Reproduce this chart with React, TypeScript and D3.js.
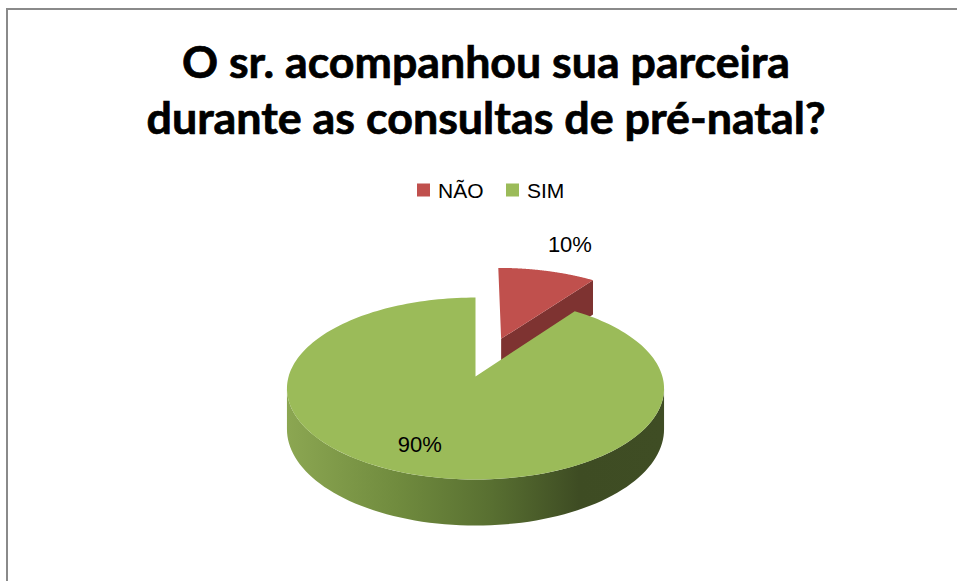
import React from 'react';
import * as d3 from 'd3';

const categories = ['NÃO', 'SIM'];
const values = [10, 90];
const valueLabels = ['10%', '90%'];
const topColors = ['#c0504d', '#9bbb59'];
const sideColors = ['#7e3331', '#6b853c'];
const explodeAmounts = [0.47, 0];
const titleLines = ['O sr. acompanhou sua parceira', 'durante as consultas de pré-natal?'];

const W = 957;
const H = 581;

// perspective parameters
const CX = 475.5;
const CY = 376.5;
const SX = 186.9;
const SY = 89.4;
const K = 0.132;
const DEPTH = 40;

function project(theta: number, r: number, z: number, off: [number, number]): [number, number] {
  const u = r * Math.sin(theta) + off[0];
  const v = r * Math.cos(theta) + off[1];
  const w = 1 + K * v;
  return [CX + (SX * u) / w, CY - (SY * v) / w + (DEPTH * z) / w];
}

function arcPoints(a0: number, a1: number, z: number, off: [number, number], n = 80): [number, number][] {
  const pts: [number, number][] = [];
  for (let i = 0; i <= n; i++) {
    const t = a0 + ((a1 - a0) * i) / n;
    pts.push(project(t, 1, z, off));
  }
  return pts;
}

const line = d3.line<[number, number]>().x((d) => d[0]).y((d) => d[1]);

export default function App() {
  const pie = d3.pie<number>().sort(null).startAngle(0).endAngle(2 * Math.PI);
  const arcs = pie(values);

  const slices = arcs.map((a, i) => {
    const mid = (a.startAngle + a.endAngle) / 2;
    const e = explodeAmounts[i];
    const off: [number, number] = [e * Math.sin(mid), e * Math.cos(mid)];
    return { a, i, mid, off };
  });

  const tangent = Math.acos(-K); // silhouette angle
  const elements: JSX.Element[] = [];

  const order = [0, 1];
  order.forEach((idx) => {
    const { a, off } = slices[idx];
    const c0 = project(0, 0, 0, off);
    const c1 = project(0, 0, 1, off);
    const endNormal = a.endAngle + Math.PI / 2;
    if (Math.cos(endNormal) < -0.05 && a.endAngle - a.startAngle < 2 * Math.PI - 0.01) {
      const o0 = project(a.endAngle, 1, 0, off);
      const o1 = project(a.endAngle, 1, 1, off);
      elements.push(
        <path key={`cutE${idx}`} d={line([c0, o0, o1, c1])! + 'Z'} fill={sideColors[idx]} />
      );
    }
    const startNormal = a.startAngle - Math.PI / 2;
    if (Math.cos(startNormal) < -0.05) {
      const o0 = project(a.startAngle, 1, 0, off);
      const o1 = project(a.startAngle, 1, 1, off);
      elements.push(
        <path key={`cutS${idx}`} d={line([c0, o0, o1, c1])! + 'Z'} fill={sideColors[idx]} />
      );
    }
    const s0 = Math.max(a.startAngle, tangent);
    const s1 = Math.min(a.endAngle, 2 * Math.PI - tangent);
    if (s1 > s0) {
      const top = arcPoints(s0, s1, 0, off);
      const bot = arcPoints(s0, s1, 1, off).reverse();
      elements.push(
        <path
          key={`side${idx}`}
          d={line([...top, ...bot])! + 'Z'}
          fill={idx === 1 ? 'url(#greenSide)' : sideColors[idx]}
        />
      );
    }
    const topArc = arcPoints(a.startAngle, a.endAngle, 0, off, 200);
    const pts = a.endAngle - a.startAngle >= 2 * Math.PI - 0.001 ? topArc : [c0, ...topArc];
    elements.push(<path key={`top${idx}`} d={line(pts)! + 'Z'} fill={topColors[idx]} />);
  });

  const labelPos = slices.map(({ mid, off }, i) => {
    const r = i === 0 ? 1.32 : 0.72;
    return project(mid, r, 0, off);
  });
  const labelNudge: [number, number][] = [[10, -8], [-10, 0]];

  const legendX = [417, 506];
  const legendY = 183.5;

  return (
    <svg
      width={W}
      height={H}
      viewBox={`0 0 ${W} ${H}`}
      style={{ position: 'absolute', left: 0, top: 0, display: 'block', background: '#fff' }}
    >
      <defs>
        <linearGradient id="greenSide" gradientUnits="userSpaceOnUse" x1={285} y1={0} x2={662} y2={0}>
          <stop offset="0" stopColor="#8ca752" />
          <stop offset="0.3" stopColor="#708b3e" />
          <stop offset="0.55" stopColor="#586f31" />
          <stop offset="0.78" stopColor="#3e4c23" />
          <stop offset="1" stopColor="#3f4d24" />
        </linearGradient>
      </defs>
      <rect x={0} y={0} width={W} height={H} fill="#fff" />
      <rect x={7} y={9} width={W + 20} height={H + 20} fill="none" stroke="#8a8a8a" strokeWidth={2} />

      {titleLines.map((t, i) => (
        <text
          key={t}
          x={486}
          y={78 + i * 56}
          textAnchor="middle"
          fontFamily="Lato, 'Open Sans', sans-serif"
          fontWeight="bold"
          fontSize={43}
          fill="#000"
          stroke="#000"
          strokeWidth={0.7}
          textLength={i === 0 ? 608 : 679}
          lengthAdjust="spacingAndGlyphs"
        >
          {t}
        </text>
      ))}

      {categories.map((c, i) => (
        <g key={c}>
          <rect x={legendX[i]} y={legendY} width={13} height={13} fill={topColors[i]} />
          <text
            x={legendX[i] + 21}
            y={legendY + 14}
            fontFamily="'Liberation Sans', Arial, sans-serif"
            fontSize={21}
            fill="#000"
          >
            {c}
          </text>
        </g>
      ))}

      {elements}

      {valueLabels.map((l, i) => (
        <text
          key={l}
          x={labelPos[i][0] + labelNudge[i][0]}
          y={labelPos[i][1] + labelNudge[i][1] + 8}
          textAnchor="middle"
          fontFamily="'Liberation Sans', Arial, sans-serif"
          fontSize={22}
          fill="#000"
        >
          {l}
        </text>
      ))}
    </svg>
  );
}
